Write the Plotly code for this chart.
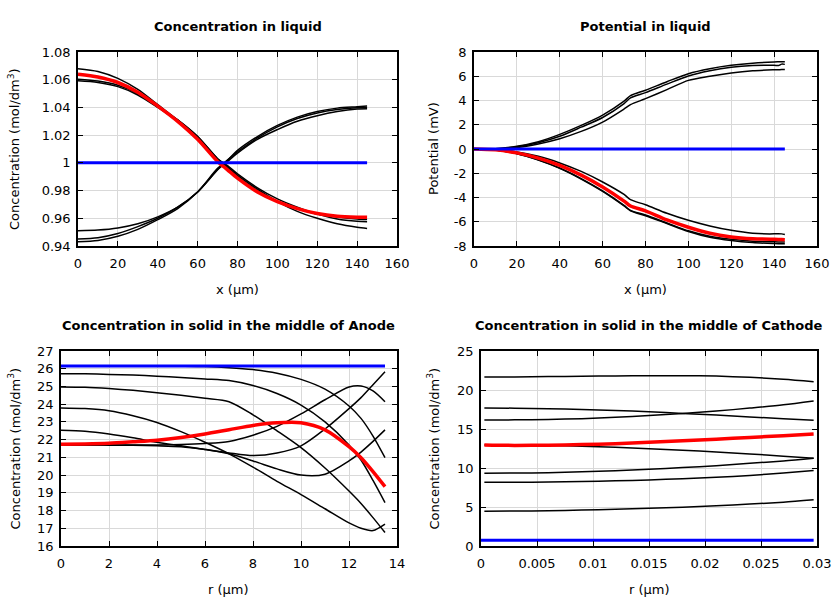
import plotly.graph_objects as go

# ---------------- Data ----------------
# Panel 1: concentration in liquid vs x (um)
liq_x = [0, 10, 20, 30, 40, 50, 60, 70, 75, 80, 90, 100, 110, 120, 130, 140, 145]
liq_black = [
    [1.068, 1.066, 1.061, 1.053, 1.042, 1.031, 1.019, 1.003, 0.997, 0.991, 0.981, 0.972, 0.965, 0.960, 0.956, 0.9535, 0.9527],
    [1.0604, 1.059, 1.056, 1.050, 1.0405, 1.031, 1.019, 1.003, 0.998, 0.992, 0.982, 0.974, 0.968, 0.963, 0.9595, 0.9578, 0.9575],
    [1.0592, 1.058, 1.055, 1.049, 1.040, 1.030, 1.018, 1.002, 0.997, 0.990, 0.980, 0.972, 0.967, 0.963, 0.961, 0.9595, 0.9591],
    [0.951, 0.9515, 0.953, 0.956, 0.961, 0.968, 0.979, 0.995, 1.001, 1.007, 1.017, 1.024, 1.030, 1.034, 1.037, 1.0388, 1.039],
    [0.945, 0.946, 0.949, 0.954, 0.960, 0.968, 0.979, 0.995, 1.002, 1.008, 1.018, 1.026, 1.032, 1.036, 1.0385, 1.0398, 1.040],
    [0.943, 0.944, 0.947, 0.952, 0.959, 0.967, 0.979, 0.996, 1.002, 1.009, 1.019, 1.027, 1.033, 1.037, 1.0395, 1.0405, 1.041],
]
liq_red = [1.064, 1.062, 1.058, 1.051, 1.041, 1.030, 1.017, 1.001, 0.995, 0.989, 0.979, 0.972, 0.967, 0.9635, 0.9615, 0.9608, 0.9607]
liq_blue_x = [0, 145]
liq_blue = [1.0, 1.0]

# Panel 2: potential in liquid vs x (um)
pot_x = [0, 10, 20, 30, 40, 50, 60, 70, 73, 80, 90, 100, 110, 120, 130, 140, 142, 143.5, 145]
pot_black = [
    [0, 0.03, 0.22, 0.6, 1.21, 1.95, 2.8, 3.95, 4.4, 4.85, 5.55, 6.21, 6.62, 6.9, 7.08, 7.18, 7.19, 7.2, 7.2],
    [0, 0.02, 0.18, 0.52, 1.05, 1.8, 2.6, 3.75, 4.21, 4.65, 5.35, 6.02, 6.45, 6.74, 6.88, 6.9, 6.88, 7.0, 6.98],
    [0, 0.01, 0.12, 0.42, 0.85, 1.45, 2.22, 3.3, 3.66, 4.15, 4.9, 5.66, 6.0, 6.27, 6.45, 6.53, 6.54, 6.55, 6.55],
    [0, -0.05, -0.25, -0.6, -1.15, -1.85, -2.72, -3.75, -4.18, -4.6, -5.3, -5.88, -6.35, -6.71, -6.95, -7.0, -6.98, -7.0, -7.06],
    [0, -0.08, -0.38, -0.9, -1.57, -2.45, -3.46, -4.65, -5.06, -5.45, -6.1, -6.75, -7.2, -7.45, -7.6, -7.65, -7.66, -7.67, -7.68],
    [0, -0.08, -0.39, -0.92, -1.6, -2.48, -3.5, -4.7, -5.1, -5.5, -6.15, -6.8, -7.28, -7.55, -7.72, -7.8, -7.81, -7.82, -7.82],
]
pot_red = [0, -0.07, -0.32, -0.75, -1.35, -2.15, -3.13, -4.3, -4.7, -5.1, -5.85, -6.45, -6.95, -7.25, -7.4, -7.45, -7.46, -7.47, -7.48]
pot_blue_x = [0, 145]
pot_blue = [0, 0]

# Panel 3: concentration in solid, anode, vs r (um)
an_r = [0, 1, 2, 3, 4, 5, 6, 7, 8, 9, 10, 11, 12, 12.5, 13, 13.5]
an_black = [
    [26.15, 26.15, 26.15, 26.15, 26.15, 26.14, 26.12, 26.06, 25.95, 25.75, 25.4, 24.85, 23.9, 23.2, 22.2, 20.98],
    [25.72, 25.71, 25.68, 25.64, 25.58, 25.5, 25.42, 25.33, 25.05, 24.6, 23.95, 23.0, 21.7, 20.85, 19.7, 18.45],
    [24.97, 24.95, 24.88, 24.78, 24.65, 24.5, 24.33, 24.14, 23.4, 22.5, 21.55, 20.4, 19.1, 18.4, 17.6, 16.76],
    [23.79, 23.75, 23.63, 23.35, 22.97, 22.45, 21.85, 21.2, 20.45, 19.65, 18.9, 18.1, 17.3, 17.0, 16.87, 17.23],
    [22.53, 22.48, 22.32, 22.1, 21.85, 21.65, 21.45, 21.2, 20.8, 20.35, 20.0, 20.05, 20.8, 21.3, 21.9, 22.55],
    [21.7, 21.7, 21.69, 21.68, 21.65, 21.6, 21.45, 21.25, 21.1, 21.25, 21.65, 22.6, 23.75, 24.37, 25.1, 25.83],
    [21.7, 21.7, 21.7, 21.7, 21.7, 21.72, 21.78, 21.9, 22.25, 22.75, 23.45, 24.25, 24.97, 25.03, 24.75, 24.14],
]
an_red = [21.74, 21.76, 21.8, 21.88, 21.97, 22.12, 22.32, 22.56, 22.8, 22.95, 22.95, 22.55, 21.6, 20.98, 20.2, 19.35]
an_blue_r = [0, 13.5]
an_blue = [26.15, 26.15]

# Panel 4: concentration in solid, cathode, vs r (um)
ca_r = [0.0003, 0.003, 0.006, 0.009, 0.012, 0.015, 0.018, 0.021, 0.024, 0.027, 0.0297]
ca_black = [
    [21.67, 21.68, 21.72, 21.76, 21.8, 21.82, 21.84, 21.78, 21.62, 21.38, 21.07],
    [17.7, 17.67, 17.6, 17.5, 17.38, 17.2, 17.0, 16.8, 16.55, 16.33, 16.11],
    [16.15, 16.17, 16.22, 16.33, 16.5, 16.73, 17.0, 17.3, 17.68, 18.1, 18.6],
    [12.95, 12.93, 12.88, 12.8, 12.65, 12.48, 12.28, 12.05, 11.8, 11.52, 11.24],
    [9.33, 9.35, 9.4, 9.52, 9.66, 9.83, 10.05, 10.3, 10.6, 10.9, 11.24],
    [8.18, 8.17, 8.2, 8.27, 8.36, 8.47, 8.62, 8.8, 9.05, 9.35, 9.68],
    [4.46, 4.48, 4.53, 4.6, 4.7, 4.84, 4.98, 5.15, 5.38, 5.62, 5.92],
]
ca_red = [12.95, 12.9, 12.93, 13.0, 13.12, 13.3, 13.48, 13.7, 13.92, 14.15, 14.37]
ca_blue_r = [0, 0.0297]
ca_blue = [0.75, 0.75]

titles = ["Concentration in liquid", "Potential in liquid",
          "Concentration in solid in the middle of Anode",
          "Concentration in solid in the middle of Cathode"]
xtitles = ["x (µm)", "x (µm)", "r (µm)", "r (µm)"]
ytitles = ["Concentration (mol/dm<sup>3</sup>)", "Potential (mV)",
           "Concentration (mol/dm<sup>3</sup>)", "Concentration (mol/dm<sup>3</sup>)"]

# ticks
y1_vals = [0.94, 0.96, 0.98, 1.0, 1.02, 1.04, 1.06, 1.08]
y1_text = ["0.94", "0.96", "0.98", "1", "1.02", "1.04", "1.06", "1.08"]
x12_vals = [0, 20, 40, 60, 80, 100, 120, 140, 160]
y2_vals = [-8, -6, -4, -2, 0, 2, 4, 6, 8]
y2_text = ["-8", "-6", "-4", "-2", "0", "2", "4", "6", "8"]
x3_vals = [0, 2, 4, 6, 8, 10, 12, 14]
y3_vals = list(range(16, 28))
x4_vals = [0, 0.005, 0.01, 0.015, 0.02, 0.025, 0.03]
x4_text = ["0", "0.005", "0.01", "0.015", "0.02", "0.025", "0.03"]
y4_vals = [0, 5, 10, 15, 20, 25]

# ---------------- Figure ----------------
FONT = "DejaVu Sans"
fig = go.Figure()

def add_panel(idx, xs, blacks, red, bx, blue, shape="spline"):
    xa = "x" if idx == 1 else f"x{idx}"
    ya = "y" if idx == 1 else f"y{idx}"
    for b in blacks:
        fig.add_trace(go.Scatter(x=xs, y=b, mode="lines", xaxis=xa, yaxis=ya,
                                 line=dict(color="black", width=1.5, shape=shape, smoothing=0.8),
                                 showlegend=False, hoverinfo="skip"))
    fig.add_trace(go.Scatter(x=xs, y=red, mode="lines", xaxis=xa, yaxis=ya,
                             line=dict(color="#ff0000", width=3.5, shape=shape, smoothing=0.8),
                             showlegend=False, hoverinfo="skip"))
    fig.add_trace(go.Scatter(x=bx, y=blue, mode="lines", xaxis=xa, yaxis=ya,
                             line=dict(color="#0000ff", width=3),
                             showlegend=False, hoverinfo="skip"))

add_panel(1, liq_x, liq_black, liq_red, liq_blue_x, liq_blue)
add_panel(2, pot_x, pot_black, pot_red, pot_blue_x, pot_blue)
add_panel(3, an_r, an_black, an_red, an_blue_r, an_blue)
add_panel(4, ca_r, ca_black, ca_red, ca_blue_r, ca_blue)

W, H = 840, 600
# plot area pixel boxes (left, right, top, bottom)
boxes = [(78, 397, 52, 246), (474, 817, 52, 246), (61, 397, 351, 546), (481, 817, 351, 546)]
ytitle_x = [14, 434, 14, 433]

axis_common = dict(showline=True, linecolor="black", linewidth=1.5, mirror="ticks",
                   ticks="inside", ticklen=5, tickwidth=1, tickcolor="black",
                   showgrid=True, gridcolor="#d9d9d9", gridwidth=1, zeroline=False,
                   automargin=False,
                   tickfont=dict(family=FONT, size=13, color="black"))

xranges = [[0, 160], [0, 160], [0, 14], [0, 0.03]]
yranges = [[0.94, 1.08], [-8, 8], [16, 27], [0, 25]]
xticks = [(x12_vals, [str(v) for v in x12_vals]), (x12_vals, [str(v) for v in x12_vals]),
          (x3_vals, [str(v) for v in x3_vals]), (x4_vals, x4_text)]
yticks = [(y1_vals, y1_text), (y2_vals, y2_text), (y3_vals, [str(v) for v in y3_vals]),
          (y4_vals, [str(v) for v in y4_vals])]

layout = dict(width=W, height=H, margin=dict(l=0, r=0, t=0, b=0, pad=0, autoexpand=False),
              paper_bgcolor="white", plot_bgcolor="white", showlegend=False,
              font=dict(family=FONT, size=13, color="black"))
annotations = []
for i, (l, r, t, b) in enumerate(boxes):
    n = "" if i == 0 else str(i + 1)
    layout["xaxis" + n] = dict(axis_common, domain=[l / W, r / W], range=xranges[i],
                               anchor="y" + n, tickvals=xticks[i][0], ticktext=xticks[i][1],
                               ticklabelstandoff=5)
    layout["yaxis" + n] = dict(axis_common, domain=[1 - b / H, 1 - t / H], range=yranges[i],
                               anchor="x" + n, tickvals=yticks[i][0], ticktext=yticks[i][1],
                               ticklabelstandoff=3)
    cx = (l + r) / 2
    annotations.append(dict(text="<b>" + titles[i] + "</b>", x=cx / W, y=1 - (t - 26) / H,
                            xref="paper", yref="paper", showarrow=False,
                            font=dict(family=FONT, size=13, color="black"),
                            xanchor="center", yanchor="middle"))
    annotations.append(dict(text=xtitles[i], x=cx / W, y=1 - (b + 43) / H,
                            xref="paper", yref="paper", showarrow=False,
                            font=dict(family=FONT, size=13, color="black"),
                            xanchor="center", yanchor="middle"))
    annotations.append(dict(text=ytitles[i], x=ytitle_x[i] / W,
                            y=1 - (t + b) / 2 / H,
                            xref="paper", yref="paper", showarrow=False, textangle=-90,
                            font=dict(family=FONT, size=13, color="black"),
                            xanchor="center", yanchor="middle"))
layout["annotations"] = annotations
fig.update_layout(**layout)
fig.write_html("out.html")
